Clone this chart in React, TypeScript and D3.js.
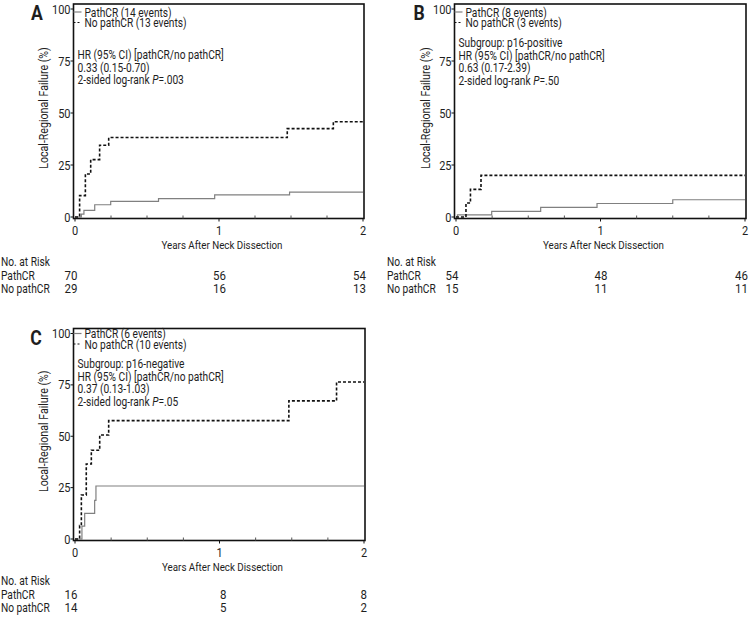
import React from 'react';
import * as d3 from 'd3';

// ---------- data ----------
const xTicks = [0, 1, 2];
const xMinorTicks = [0.25, 0.5, 0.75, 1.25, 1.5, 1.75];
const yTicks = [0, 25, 50, 75, 100];
const seriesNames = ['PathCR', 'No pathCR'];

// Panel A
const aPathCRTimes = [0, 0.044, 0.062, 0.137, 0.248, 0.58, 0.97, 1.49];
const aPathCRFail = [0, 1.4, 3.2, 5.9, 7.5, 8.8, 10.6, 12.0];
const aNoPathTimes = [0, 0.032, 0.072, 0.109, 0.171, 0.234, 1.474, 1.794];
const aNoPathFail = [0, 10.3, 20.7, 27.6, 34.5, 38.2, 42.5, 45.8];
const aRiskPathCR = [70, 56, 54];
const aRiskNoPath = [29, 16, 13];
const aLegend = ['PathCR (14 events)', 'No pathCR (13 events)'];
const aInfo = ['HR (95% CI) [pathCR/no pathCR]', '0.33 (0.15-0.70)', '2-sided log-rank |P|=.003'];

// Panel B
const bPathCRTimes = [0, 0.01, 0.247, 0.586, 0.976, 1.5];
const bPathCRFail = [0, 1.0, 2.7, 4.6, 6.5, 8.3];
const bNoPathTimes = [0, 0.069, 0.1, 0.173];
const bNoPathFail = [0, 6.7, 13.3, 20.0];
const bRiskPathCR = [54, 48, 46];
const bRiskNoPath = [15, 11, 11];
const bLegend = ['PathCR (8 events)', 'No pathCR (3 events)'];
const bInfo = ['Subgroup: p16-positive', 'HR (95% CI) [pathCR/no pathCR]', '0.63 (0.17-2.39)', '2-sided log-rank |P|=.50'];

// Panel C
const cPathCRTimes = [0, 0.048, 0.067, 0.136, 0.145];
const cPathCRFail = [0, 6.3, 12.5, 18.8, 25.8];
const cNoPathTimes = [0, 0.032, 0.044, 0.078, 0.113, 0.171, 0.233, 1.48, 1.81];
const cNoPathFail = [0, 6.5, 21.4, 36.5, 43.2, 50.6, 57.6, 67.2, 76.4];
const cRiskPathCR = [16, 8, 8];
const cRiskNoPath = [14, 5, 2];
const cLegend = ['PathCR (6 events)', 'No pathCR (10 events)'];
const cInfo = ['Subgroup: p16-negative', 'HR (95% CI) [pathCR/no pathCR]', '0.37 (0.13-1.03)', '2-sided log-rank |P|=.05'];

const xTitle = 'Years After Neck Dissection';
const yTitle = 'Local-Regional Failure (%)';
const riskTitle = 'No. at Risk';

// ---------- styling ----------
const FONT = "Roboto, 'Liberation Sans', sans-serif";
const TEXT = '#1e1e1e';
const SOLID = '#808080';
const DASH = '#111';
const SX = 0.85;

type PanelCfg = {
  letter: string;
  xr: [number, number];
  yr: [number, number];
  pathT: number[]; pathV: number[];
  noT: number[]; noV: number[];
  riskP: number[]; riskN: number[];
  legend: string[];
  info: string[];
  infoTop: number;
  legendTop: number;
  riskTop: number;
  riskLabelX: number;
  letterX: number;
  yTitleX: number;
};

const panels: PanelCfg[] = [
  {
    letter: 'A', xr: [75, 363], yr: [217, 9],
    pathT: aPathCRTimes, pathV: aPathCRFail, noT: aNoPathTimes, noV: aNoPathFail,
    riskP: aRiskPathCR, riskN: aRiskNoPath, legend: aLegend, info: aInfo,
    infoTop: 59, legendTop: 16.5, riskTop: 49, riskLabelX: 1, letterX: 37, yTitleX: 45,
  },
  {
    letter: 'B', xr: [456, 745], yr: [217, 9],
    pathT: bPathCRTimes, pathV: bPathCRFail, noT: bNoPathTimes, noV: bNoPathFail,
    riskP: bRiskPathCR, riskN: bRiskNoPath, legend: bLegend, info: bInfo,
    infoTop: 47, legendTop: 16.5, riskTop: 49, riskLabelX: 387, letterX: 419, yTitleX: 427,
  },
  {
    letter: 'C', xr: [75, 364], yr: [539, 333.5],
    pathT: cPathCRTimes, pathV: cPathCRFail, noT: cNoPathTimes, noV: cNoPathFail,
    riskP: cRiskPathCR, riskN: cRiskNoPath, legend: cLegend, info: cInfo,
    infoTop: 368, legendTop: 338, riskTop: 46, riskLabelX: 1, letterX: 36, yTitleX: 45,
  },
];

const riskOffsets = [2.5, 7, 3];

type TProps = {
  x: number; y: number; size: number; sx?: number; anchor?: 'start' | 'middle' | 'end';
  rotate?: number; weight?: string; dy?: string; children: React.ReactNode; baseline?: string;
};

function T({ x, y, size, sx = SX, anchor = 'start', rotate = 0, weight = 'normal', dy, children, baseline }: TProps) {
  return (
    <text
      transform={`translate(${x},${y}) rotate(${rotate}) scale(${sx},1)`}
      fontFamily={FONT}
      fontSize={size}
      fontWeight={weight}
      textAnchor={anchor}
      dy={dy}
      dominantBaseline={baseline}
      fill={TEXT}
    >
      {children}
    </text>
  );
}

function InfoLine({ s, x, y }: { s: string; x: number; y: number }) {
  const parts = s.split('|');
  return (
    <T x={x} y={y} size={12}>
      {parts.map((p, i) => (
        <tspan key={i} fontStyle={i % 2 === 1 ? 'italic' : 'normal'}>{p}</tspan>
      ))}
    </T>
  );
}

function Panel({ p }: { p: PanelCfg }) {
  const x = d3.scaleLinear().domain([0, 2]).range(p.xr);
  const y = d3.scaleLinear().domain([0, 100]).range(p.yr);
  const line = d3
    .line<[number, number]>()
    .x((d) => x(d[0]))
    .y((d) => y(d[1]))
    .curve(d3.curveStepAfter);
  const mk = (t: number[], v: number[]): [number, number][] => [
    ...t.map((tt, i) => [tt, v[i]] as [number, number]),
    [2, v[v.length - 1]],
  ];
  const left = x(0) - 1.5;
  const right = x(2) + 1;
  const top = y(100) - 5;
  const bottom = y(0) + 1.5;
  const y0 = y(0);

  return (
    <g>
      <T x={p.letterX} y={y(100) + 11} size={20} sx={0.88} weight="bold" anchor="middle">
        {p.letter}
      </T>
      <T x={p.yTitleX} y={y(50) - 5} size={12.5} rotate={-90} anchor="middle" baseline="middle">
        {yTitle}
      </T>
      {/* curves */}
      <path d={line(mk(p.pathT, p.pathV)) || ''} fill="none" stroke={SOLID} strokeWidth={1.2} />
      <path d={line(mk(p.noT, p.noV)) || ''} fill="none" stroke={DASH} strokeWidth={1.6} strokeDasharray="3,2" />
      {/* box */}
      <rect x={left} y={top} width={right - left} height={bottom - top} fill="none" stroke="#111" strokeWidth={1.6} />
      {/* y ticks */}
      {yTicks.map((t) => (
        <g key={t}>
          <line x1={left - 3} x2={left} y1={y(t)} y2={y(t)} stroke="#111" strokeWidth={1} />
          <T x={left - 3} y={y(t)} dy="0.36em" size={12.5} sx={0.88} anchor="end">
            {t}
          </T>
        </g>
      ))}
      {/* x ticks */}
      {xTicks.map((t) => (
        <g key={t}>
          <line x1={x(t)} x2={x(t)} y1={bottom} y2={bottom + 3} stroke="#111" strokeWidth={1} />
          <T x={x(t)} y={y0 + 18} size={12.5} sx={0.88} anchor="middle">
            {t}
          </T>
        </g>
      ))}
      {xMinorTicks.map((t) => (
        <line key={t} x1={x(t)} x2={x(t)} y1={bottom} y2={bottom - 3} stroke="#555" strokeWidth={1} />
      ))}
      <T x={x(1) + 3} y={y0 + 32} size={11.5} anchor="middle">
        {xTitle}
      </T>
      {/* legend */}
      <line x1={left} x2={left + 8} y1={p.legendTop - 4.5} y2={p.legendTop - 4.5} stroke={SOLID} strokeWidth={1.2} />
      <line x1={left} x2={left + 8} y1={p.legendTop + 6} y2={p.legendTop + 6} stroke={DASH} strokeWidth={1.2} strokeDasharray="2,2" />
      {p.legend.map((s, i) => (
        <T key={s} x={left + 11} y={p.legendTop + i * 10.8} size={12}>
          {s}
        </T>
      ))}
      {/* info */}
      {p.info.map((s, i) => (
        <InfoLine key={i} s={s} x={left + 4} y={p.infoTop + i * 12.7} />
      ))}
      {/* risk table */}
      <T x={p.riskLabelX} y={y0 + p.riskTop} size={12}>{riskTitle}</T>
      {[p.riskP, p.riskN].map((row, r) => (
        <g key={r}>
          <T x={p.riskLabelX} y={y0 + p.riskTop + 13.5 * (r + 1)} size={12}>
            {seriesNames[r]}
          </T>
          {row.map((n, i) => (
            <T key={i} x={x(xTicks[i]) + riskOffsets[i]} y={y0 + p.riskTop + 13.5 * (r + 1)} size={12.5} sx={0.92} anchor="end">
              {n}
            </T>
          ))}
        </g>
      ))}
    </g>
  );
}

export default function App() {
  return (
    <svg width={750} height={618} style={{ position: 'absolute', left: 0, top: 0, background: '#fff' }}>
      <rect x={0} y={0} width={750} height={618} fill="#fff" />
      {panels.map((p) => (
        <Panel key={p.letter} p={p} />
      ))}
    </svg>
  );
}
